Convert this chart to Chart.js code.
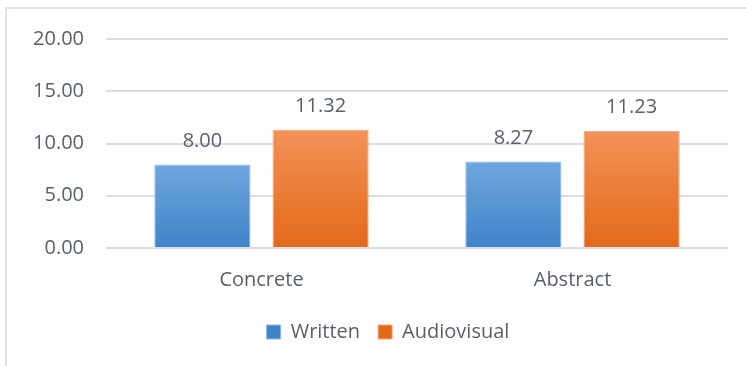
<!DOCTYPE html>
<html lang="en">
<head>
  <meta charset="UTF-8"/>
  <title>Written vs Audiovisual</title>
  <script src="https://cdn.jsdelivr.net/npm/chart.js"></script>
  <style>
    body {
      margin: 0;
      background: #fff;
      overflow: hidden;
    }
    .frame {
      position: absolute;
      left: 5px;
      top: 7px;
      width: 800px;
      height: 400px;
      border-left: 2px solid #dde1e8;
      border-top: 2px solid #dde1e8;
    }
    .wrap {
      position: relative;
      width: 746px;
      height: 366px;
    }
  </style>
</head>
<body>
  <div class="frame"></div>
  <div class="wrap"><canvas id="chart"></canvas></div>

  <script>
    const categories = ['Concrete', 'Abstract'];
    const writtenValues = [8.00, 8.27];
    const audiovisualValues = [11.32, 11.23];
    const seriesNames = ['Written', 'Audiovisual'];

    const textColor = '#59606d';
    const font = "'Open Sans', Lato, sans-serif";

    // vertical gradient per bar, from bar top to the baseline
    function barGradient(top, bottom) {
      return (ctx) => {
        const chart = ctx.chart;
        const area = chart.chartArea;
        if (!area || ctx.parsed == null) return bottom;
        const y = chart.scales.y;
        const y0 = y.getPixelForValue(ctx.parsed.y);
        const y1 = y.getPixelForValue(0);
        const g = chart.ctx.createLinearGradient(0, y0, 0, y1);
        g.addColorStop(0, top);
        g.addColorStop(0.5, mid(top, bottom));
        g.addColorStop(1, bottom);
        return g;
      };
    }
    function mid(a, b) {
      const p = (h) => [1, 3, 5].map(i => parseInt(h.substr(i, 2), 16));
      const x = p(a), z = p(b);
      return 'rgb(' + x.map((v, i) => Math.round((v + z[i]) / 2)).join(',') + ')';
    }

    // value labels above each bar
    const valueLabels = {
      id: 'valueLabels',
      afterDatasetsDraw(chart) {
        const c = chart.ctx;
        c.save();
        c.font = '20px ' + font;
        c.fillStyle = textColor;
        c.textAlign = 'center';
        c.textBaseline = 'bottom';
        chart.data.datasets.forEach((ds, i) => {
          chart.getDatasetMeta(i).data.forEach((bar, j) => {
            c.fillText(ds.data[j].toFixed(2), bar.x, bar.y - 13);
          });
        });
        c.restore();
      }
    };

    // the original legend sits a little right of centre
    const legendShift = {
      id: 'legendShift',
      afterLayout(chart) {
        if (chart.legend) {
          chart.legend.left += 24;
          chart.legend.right += 24;
        }
      }
    };

    new Chart(document.getElementById('chart'), {
      type: 'bar',
      data: {
        labels: categories,
        datasets: [
          {
            label: seriesNames[0],
            data: writtenValues,
            backgroundColor: barGradient('#70a6de', '#3f83c8'),
            borderColor: '#86b5e6',
            borderWidth: 1
          },
          {
            label: seriesNames[1],
            data: audiovisualValues,
            backgroundColor: barGradient('#f39258', '#e3691a'),
            borderColor: '#f5a877',
            borderWidth: 1
          }
        ]
      },
      options: {
        responsive: true,
        maintainAspectRatio: false,
        animation: false,
        categoryPercentage: 0.76,
        barPercentage: 0.814,
        layout: { padding: { top: 39, right: 18, bottom: 14, left: 0 } },
        plugins: {
          tooltip: { enabled: false },
          legend: {
            position: 'bottom',
            labels: {
              color: textColor,
              font: { family: font, size: 20 },
              boxWidth: 14,
              boxHeight: 14,
              padding: 18
            }
          }
        },
        scales: {
          x: {
            grid: { display: false },
            border: { display: false },
            ticks: {
              color: textColor,
              font: { family: font, size: 20 },
              padding: 12
            }
          },
          y: {
            min: 0,
            max: 20,
            afterFit: (s) => { s.width = 106; },
            grid: { color: '#d9dde4', lineWidth: 2, drawTicks: false },
            border: { display: false },
            ticks: {
              stepSize: 5,
              color: textColor,
              font: { family: font, size: 20 },
              padding: 22,
              callback: (v) => v.toFixed(2)
            }
          }
        }
      },
      plugins: [valueLabels, legendShift]
    });
  </script>
</body>
</html>
